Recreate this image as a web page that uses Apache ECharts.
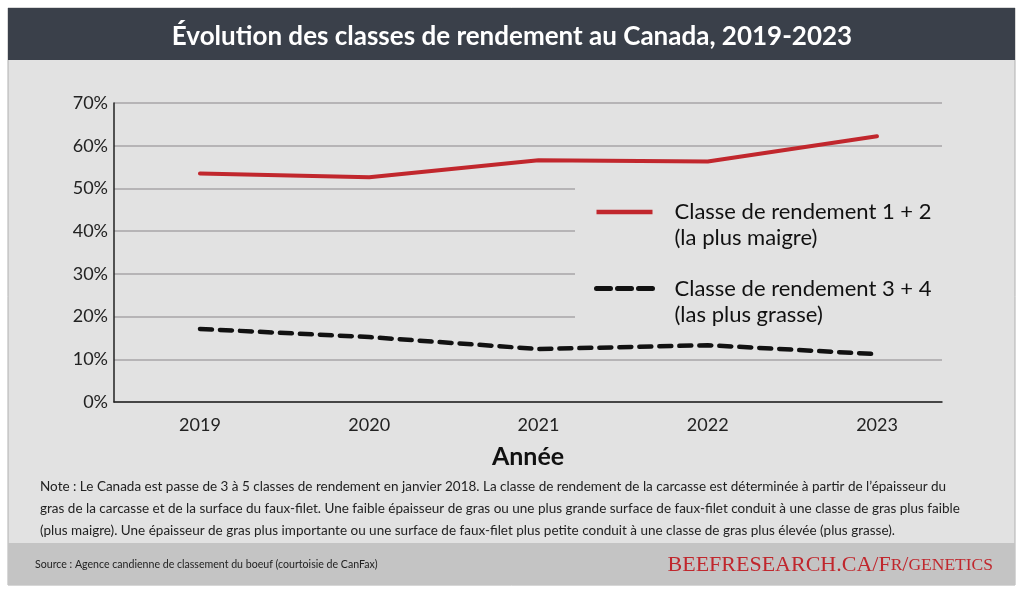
<!DOCTYPE html>
<html lang="fr">
<head>
    <meta charset="UTF-8">
    <title>Évolution des classes de rendement au Canada, 2019-2023</title>
    <style>
        html, body { margin: 0; padding: 0; background: #fff; }
        #chart { width: 1024px; height: 594px; }
    </style>
</head>
<body>
<div id="chart"></div>
<script src="https://cdn.jsdelivr.net/npm/echarts@6/dist/echarts.min.js"></script>
<script>
    // données
    var years = [2019, 2020, 2021, 2022, 2023];
    var classe12 = [53.5, 52.6, 56.6, 56.3, 62.2];   // rendement 1 + 2 (%)
    var classe34 = [17.1, 15.2, 12.4, 13.3, 11.2];   // rendement 3 + 4 (%)
    var seriesNames = ['Classe de rendement 1 + 2', 'Classe de rendement 3 + 4'];
    var seriesSubs = ['(la plus maigre)', '(las plus grasse)'];

    var note = 'Note : Le Canada est passe de 3 à 5 classes de rendement en janvier 2018. La classe de rendement de la carcasse est déterminée à partir de l\u2019épaisseur du\n' +
        'gras de la carcasse et de la surface du faux-filet. Une faible épaisseur de gras ou une plus grande surface de faux-filet conduit à une classe de gras plus faible\n' +
        '(plus maigre). Une épaisseur de gras plus importante ou une surface de faux-filet plus petite conduit à une classe de gras plus élevée (plus grasse).';

    var font = 'Lato, "Noto Sans", sans-serif';

    function pairs(vals) {
        var out = [];
        for (var i = 0; i < years.length; i++) {
            out.push([years[i], vals[i]]);
        }
        return out;
    }

    var chart = echarts.init(document.getElementById('chart'));
    chart.setOption({
        animation: false,
        backgroundColor: '#ffffff',
        textStyle: { fontFamily: font },
        title: {
            text: 'Évolution des classes de rendement au Canada, 2019-2023',
            left: 'center',
            top: 19,
            textStyle: { color: '#ffffff', fontSize: 26, fontWeight: 'bold', fontFamily: font }
        },
        graphic: [
            {
                type: 'rect', z: -10, silent: true,
                shape: { x: 8, y: 8, width: 1007, height: 577 },
                style: { fill: '#e2e2e2', stroke: '#b0b0b0', lineWidth: 1 }
            },
            {
                type: 'rect', z: -9, silent: true,
                shape: { x: 8, y: 8, width: 1007, height: 52 },
                style: { fill: '#3a404a' }
            },
            {
                type: 'rect', z: -9, silent: true,
                shape: { x: 8, y: 543, width: 1007, height: 42 },
                style: { fill: '#c4c4c4' }
            },
            {
                type: 'text', silent: true,
                x: 40, y: 476,
                style: { text: note, fill: '#222', fontSize: 13.5, lineHeight: 22, fontFamily: font }
            },
            {
                type: 'text', silent: true,
                x: 35, y: 559,
                style: { text: 'Source : Agence candienne de classement du boeuf (courtoisie de CanFax)', fill: '#222', fontSize: 10.6, fontFamily: font }
            },
            {
                type: 'text', silent: true,
                x: 993, y: 565,
                style: {
                    text: '{a|BEEFRESEARCH.CA/F}{b|R}{a|/}{b|GENETICS}',
                    align: 'right', verticalAlign: 'middle',
                    rich: {
                        a: { fill: '#c0272d', fontSize: 22, fontFamily: '"Liberation Serif", serif' },
                        b: { fill: '#c0272d', fontSize: 17.5, fontFamily: '"Liberation Serif", serif' }
                    }
                }
            }
        ],
        grid: { left: 114, right: 82, top: 103, bottom: 192 },
        legend: {
            orient: 'vertical',
            left: 575,
            top: 168,
            padding: [5, 16, 10, 19],
            backgroundColor: '#e2e2e2',
            selectedMode: false,
            itemWidth: 56,
            itemHeight: 14,
            itemGap: -1.5,
            itemStyle: { opacity: 0 },
            data: [
                { name: seriesNames[0], lineStyle: { width: 4.5, cap: 'butt' } },
                { name: seriesNames[1], lineStyle: { width: 5, type: [14, 7], cap: 'round' } }
            ],
            formatter: function (name) {
                // ligne vide en tête pour aligner le trait sur la première ligne
                return '\n' + name + '\n' + seriesSubs[seriesNames.indexOf(name)];
            },
            textStyle: {
                color: '#111',
                fontSize: 22,
                lineHeight: 26,
                fontFamily: font,
                padding: [0, 0, 0, 17]
            }
        },
        xAxis: {
            type: 'value',
            min: 2018.492,
            max: 2023.384,
            name: 'Année',
            nameLocation: 'middle',
            nameGap: 42,
            nameTextStyle: { fontSize: 25, fontWeight: 'bold', color: '#111', fontFamily: font },
            axisLine: { show: true, lineStyle: { color: '#222', width: 1.5 } },
            axisTick: { show: false },
            splitLine: { show: false },
            axisLabel: {
                customValues: years,
                margin: 14,
                fontSize: 18,
                color: '#222',
                formatter: function (v) { return String(v); }
            }
        },
        yAxis: {
            type: 'value',
            min: 0,
            max: 70,
            interval: 10,
            axisLine: { show: true, lineStyle: { color: '#222', width: 1.5 } },
            axisTick: { show: false },
            axisLabel: { formatter: '{value}%', fontSize: 18, color: '#222', margin: 6 },
            splitLine: { lineStyle: { color: '#a7a5a7', width: 1.5 } }
        },
        series: [
            {
                name: seriesNames[0],
                type: 'line',
                data: pairs(classe12),
                symbol: 'none',
                lineStyle: { color: '#c1272d', width: 4, cap: 'round' },
                itemStyle: { color: '#c1272d' }
            },
            {
                name: seriesNames[1],
                type: 'line',
                data: pairs(classe34),
                symbol: 'none',
                lineStyle: { color: '#111', width: 4.5, type: [12, 8], cap: 'round' },
                itemStyle: { color: '#111' }
            }
        ]
    });
</script>
</body>
</html>
